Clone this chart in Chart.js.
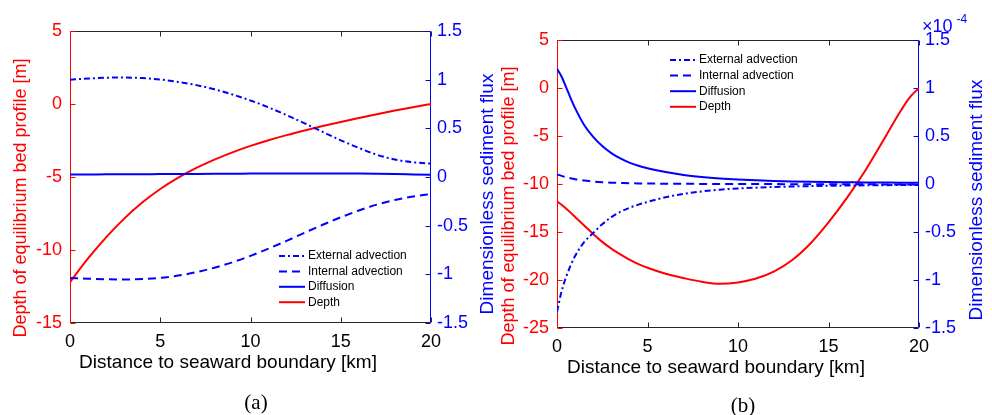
<!DOCTYPE html>
<html>
<head>
<meta charset="utf-8">
<script src="https://cdn.jsdelivr.net/npm/chart.js@4.4.1/dist/chart.umd.min.js"></script>
<style>
  body { margin: 0; background: #fff; }
  #wrap { position: relative; width: 992px; height: 415px; overflow: hidden; }
  canvas { position: absolute; top: 0; }
  #chartA { left: 0; }
  #chartB { left: 470px; }
  .cap { position: absolute; font-family: 'Liberation Serif', serif; font-size: 21px; transform: translateX(-50%); }
</style>
</head>
<body>
<div id="wrap">
  <canvas id="chartA" width="500" height="415"></canvas>
  <canvas id="chartB" width="522" height="415"></canvas>
  <div class="cap" style="left:256px; top:390px">(a)</div>
  <div class="cap" style="left:743px; top:393px">(b)</div>
</div>
<script>
// panel (a): distance [km]
const distA = [0, 1, 2, 3, 4, 5, 6, 7, 8, 9, 10, 11, 12, 13, 14, 15, 16, 17, 18, 19, 20];
const depthA = [-12.2, -10.58, -9.13, -7.85, -6.75, -5.82, -5.04, -4.38, -3.81, -3.31, -2.87, -2.48, -2.13, -1.81, -1.51, -1.23, -0.96, -0.7, -0.45, -0.22, 0];
const extA = [1.0, 1.012, 1.02, 1.022, 1.016, 1.001, 0.977, 0.944, 0.901, 0.848, 0.786, 0.715, 0.636, 0.551, 0.463, 0.377, 0.299, 0.229, 0.179, 0.151, 0.138];
const intA = [-1.037, -1.045, -1.051, -1.053, -1.049, -1.037, -1.013, -0.978, -0.932, -0.876, -0.81, -0.736, -0.656, -0.573, -0.491, -0.414, -0.344, -0.284, -0.236, -0.2, -0.175];
const diffA = [0.025, 0.026, 0.027, 0.028, 0.029, 0.03, 0.031, 0.032, 0.033, 0.034, 0.035, 0.036, 0.037, 0.037, 0.037, 0.036, 0.035, 0.033, 0.03, 0.026, 0.022];

// panel (b): distance [km], flux in units of 1e-4
const distB = [0, 0.25, 0.5, 0.75, 1, 1.5, 2, 2.5, 3, 3.5, 4, 4.5, 5, 6, 7, 8, 9, 10, 11, 12, 13, 14, 15, 16, 17, 18, 19, 19.5, 20];
const depthB = [-11.8, -12.17, -12.55, -12.98, -13.43, -14.33, -15.2, -16.03, -16.73, -17.33, -17.88, -18.35, -18.73, -19.35, -19.8, -20.18, -20.4, -20.25, -19.85, -19.1, -17.92, -16.2, -14.0, -11.5, -8.7, -5.55, -2.35, -0.95, 0];
const extB = [-1.33, -1.12, -0.97, -0.85, -0.75, -0.605, -0.51, -0.42, -0.345, -0.29, -0.248, -0.215, -0.187, -0.138, -0.102, -0.077, -0.059, -0.047, -0.038, -0.031, -0.026, -0.022, -0.019, -0.016, -0.014, -0.012, -0.011, -0.01, -0.01];
const intB = [0.10, 0.085, 0.072, 0.06, 0.05, 0.036, 0.026, 0.019, 0.014, 0.011, 0.008, 0.006, 0.005, 0.003, 0.002, 0.001, 0, 0, -0.001, -0.001, -0.002, -0.002, -0.003, -0.003, -0.003, -0.004, -0.004, -0.004, -0.004];
const diffB = [1.2, 1.12, 1.01, 0.895, 0.79, 0.615, 0.49, 0.395, 0.322, 0.266, 0.222, 0.19, 0.165, 0.124, 0.093, 0.072, 0.057, 0.046, 0.038, 0.032, 0.027, 0.023, 0.02, 0.018, 0.016, 0.015, 0.014, 0.014, 0.014];

const seriesNames = ["External advection", "Internal advection", "Diffusion", "Depth"];
const xTicksA = [0, 5, 10, 15, 20];

const xTitle = "Distance to seaward boundary [km]";
const depthTitle = "Depth of equilibrium bed profile [m]";
const fluxTitle = "Dimensionless sediment flux";

const FONT = "'Liberation Sans', Arial, sans-serif";
const RED = "#ff0000";
const BLUE = "#0000ff";
const DARK = "#262626";

function pts(xs, ys) {
    return xs.map((x, i) => ({ x: x, y: ys[i] }));
}

function makeDatasets(xs, ext, int, diff, depth) {
    const base = { pointRadius: 0, borderWidth: 2, fill: false, cubicInterpolationMode: "monotone" };
    return [
        { ...base, label: seriesNames[0], data: pts(xs, ext), borderColor: BLUE, borderDash: [6, 3, 2, 3], yAxisID: "y2" },
        { ...base, label: seriesNames[1], data: pts(xs, int), borderColor: BLUE, borderDash: [8, 5], yAxisID: "y2" },
        { ...base, label: seriesNames[2], data: pts(xs, diff), borderColor: BLUE, yAxisID: "y2" },
        { ...base, label: seriesNames[3], data: pts(xs, depth), borderColor: RED, yAxisID: "y" }
    ];
}

// box + inward tick marks, matlab style
const frame = {
    id: "frame",
    beforeDatasetsDraw(chart) {
        const { ctx, chartArea: a, scales } = chart;
        const L = a.left + 0.5, R = a.right - 0.5, T = a.top + 0.5, B = a.bottom - 0.5;
        const tl = 5;
        ctx.save();
        ctx.lineWidth = 1;

        ctx.strokeStyle = DARK;
        ctx.beginPath();
        ctx.moveTo(L, T); ctx.lineTo(R, T);
        ctx.moveTo(L, B); ctx.lineTo(R, B);
        scales.x.ticks.forEach(t => {
            const px = Math.round(scales.x.getPixelForValue(t.value)) + 0.5;
            ctx.moveTo(px, B); ctx.lineTo(px, B - tl);
            ctx.moveTo(px, T); ctx.lineTo(px, T + tl);
        });
        ctx.stroke();

        ctx.strokeStyle = RED;
        ctx.beginPath();
        ctx.moveTo(L, T); ctx.lineTo(L, B);
        scales.y.ticks.forEach(t => {
            const py = Math.round(scales.y.getPixelForValue(t.value)) + 0.5;
            ctx.moveTo(L, py); ctx.lineTo(L + tl, py);
        });
        ctx.stroke();

        ctx.strokeStyle = BLUE;
        ctx.beginPath();
        ctx.moveTo(R, T); ctx.lineTo(R, B);
        scales.y2.ticks.forEach(t => {
            const py = Math.round(scales.y2.getPixelForValue(t.value)) + 0.5;
            ctx.moveTo(R, py); ctx.lineTo(R - tl, py);
        });
        ctx.stroke();
        ctx.restore();
    }
};

// axis titles, legend and extra labels
const annotate = {
    id: "annotate",
    afterDraw(chart, args, opts) {
        const { ctx, chartArea: a } = chart;
        ctx.save();
        (opts.texts || []).forEach(t => {
            ctx.save();
            ctx.translate(t.x, t.y);
            if (t.rot) ctx.rotate(-Math.PI / 2);
            ctx.font = (t.size || 18) + "px " + FONT;
            ctx.fillStyle = t.color || "#000";
            ctx.textAlign = t.align || "center";
            ctx.textBaseline = t.base || "middle";
            ctx.fillText(t.text, 0, 0);
            ctx.restore();
        });

        const lg = opts.legend;
        if (lg) {
            ctx.font = "12px " + FONT;
            ctx.textBaseline = "middle";
            ctx.textAlign = "left";
            chart.data.datasets.forEach((ds, i) => {
                const y = a.top + lg.y + i * lg.step;
                const x0 = a.left + lg.x;
                ctx.strokeStyle = ds.borderColor;
                ctx.lineWidth = 2;
                ctx.setLineDash(ds.borderDash || []);
                ctx.beginPath();
                ctx.moveTo(x0, y); ctx.lineTo(x0 + 26, y);
                ctx.stroke();
                ctx.setLineDash([]);
                ctx.fillStyle = "#000";
                ctx.fillText(ds.label, x0 + 29, y);
            });
        }
        ctx.restore();
    }
};

function makeScales(w, h, left, right, bottom, yMin, yMax) {
    const tickFont = { family: FONT, size: 18 };
    return {
        x: {
            type: "linear", min: 0, max: 20,
            afterBuildTicks: s => { s.ticks = xTicksA.map(v => ({ value: v })); },
            ticks: { color: "#000", font: tickFont, padding: 8, autoSkip: false, maxRotation: 0 },
            grid: { display: false, drawTicks: false },
            border: { display: false },
            afterFit: s => { s.height = h - bottom; }
        },
        y: {
            position: "left", min: yMin, max: yMax,
            ticks: { stepSize: 5, color: RED, font: tickFont, padding: 8, autoSkip: false },
            grid: { display: false, drawTicks: false },
            border: { display: false },
            afterFit: s => { s.width = left; }
        },
        y2: {
            position: "right", min: -1.5, max: 1.5,
            ticks: { stepSize: 0.5, color: BLUE, font: tickFont, padding: 6, autoSkip: false, callback: v => String(v) },
            grid: { display: false, drawTicks: false },
            border: { display: false },
            afterFit: s => { s.width = w - right; }
        }
    };
}

new Chart(document.getElementById("chartA").getContext("2d"), {
    type: "line",
    data: { datasets: makeDatasets(distA, extA, intA, diffA, depthA) },
    options: {
        responsive: false,
        animation: false,
        layout: { padding: { left: 0, right: 0, top: 31, bottom: 0 } },
        scales: makeScales(500, 415, 70, 431, 323, -15, 5),
        plugins: {
            legend: { display: false },
            tooltip: { enabled: false },
            annotate: {
                texts: [
                    { text: xTitle, x: 228, y: 363, size: 19 },
                    { text: depthTitle, x: 21, y: 198, rot: true, color: RED },
                    { text: fluxTitle, x: 488, y: 194, rot: true, color: BLUE, size: 19 }
                ],
                legend: { x: 209, y: 225, step: 15.4 }
            }
        }
    },
    plugins: [frame, annotate]
});

new Chart(document.getElementById("chartB").getContext("2d"), {
    type: "line",
    data: { datasets: makeDatasets(distB, extB, intB, diffB, depthB) },
    options: {
        responsive: false,
        animation: false,
        layout: { padding: { left: 0, right: 0, top: 40, bottom: 0 } },
        scales: makeScales(522, 415, 87, 449, 328, -25, 5),
        plugins: {
            legend: { display: false },
            tooltip: { enabled: false },
            annotate: {
                texts: [
                    { text: xTitle, x: 246, y: 368, size: 19 },
                    { text: depthTitle, x: 39, y: 206, rot: true, color: RED },
                    { text: fluxTitle, x: 507, y: 200, rot: true, color: BLUE, size: 19 },
                    { text: "\u00d710", x: 452, y: 31.5, align: "left", base: "alphabetic", color: BLUE, size: 18 },
                    { text: "-4", x: 486.5, y: 22.5, align: "left", base: "alphabetic", color: BLUE, size: 12 }
                ],
                legend: { x: 113, y: 20, step: 15.6 }
            }
        }
    },
    plugins: [frame, annotate]
});
</script>
</body>
</html>
